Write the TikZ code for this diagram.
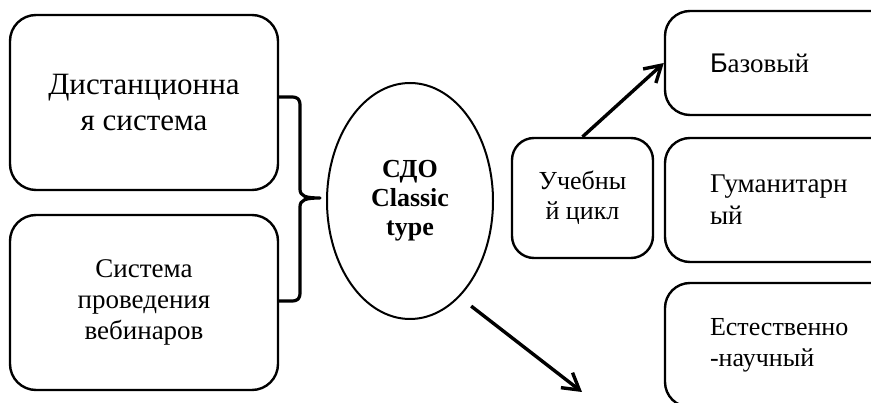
\documentclass[tikz,border=0pt]{standalone}
\usepackage{fontspec}
\setmainfont{Liberation Serif}
\newfontfamily\arialfont{Liberation Sans}
\usetikzlibrary{arrows.meta,shapes.geometric,calc}
\tikzset{
  rbox/.style={draw=black, line width=2.4pt, rounded corners=26pt, inner sep=0pt},
  arr/.style={draw=black, line width=3.4pt, -{Straight Barb[length=16pt,width=19pt,line width=3.4pt]}},
  bracestyle/.style={draw=black, line width=3.2pt, line cap=butt, line join=round},
}
\begin{document}
\begin{tikzpicture}[x=1pt,y=-1pt]
\useasboundingbox (0,0) rectangle (871,403);
\clip (0,0) rectangle (871,403);
% left boxes
\node[rbox, minimum width=268pt, minimum height=175pt, align=center,
      font=\fontsize{31}{36}\selectfont] (b1) at (144,102.5) {Дистанционна\\я система};
\node[rbox, minimum width=268pt, minimum height=175pt, align=center,
      font=\fontsize{27}{31}\selectfont] (b2) at (144,302.5) {Система\\проведения\\вебинаров};
% ellipse
\node[draw=black, line width=2pt, ellipse, minimum width=166pt, minimum height=236pt,
      inner sep=0pt, align=center, font=\fontsize{26}{29}\selectfont\bfseries] (cdo) at (410,201) {СДО\\Classic\\type};
% brace
\draw[bracestyle] (278,97) -- (291,97) .. controls (298,97) and (300,99) .. (300,106)
  -- (300,189) .. controls (300,196) and (305,198) .. (320,198)
  .. controls (305,198) and (300,200) .. (300,207)
  -- (300,292) .. controls (300,299) and (298,301) .. (291,301) -- (278,301);
% middle box
\node[rbox, rounded corners=22pt, minimum width=141pt, minimum height=120pt, align=center,
      font=\fontsize{26}{30}\selectfont] (uc) at (582.5,198) {Учебны\\й цикл};
% right boxes
\node[rbox, rounded corners=25pt, minimum width=250pt, minimum height=104pt,
      inner xsep=45pt, text width=160pt, align=left,
      font=\fontsize{27}{31}\selectfont] (baz) at (790,63) {{\arialfont Б}азовый};
\node[rbox, rounded corners=25pt, minimum width=250pt, minimum height=124pt,
      inner xsep=45pt, text width=160pt, align=left,
      font=\fontsize{27}{32}\selectfont] (hum) at (790,200) {Гуманитарн\\ый};
\node[rbox, rounded corners=25pt, minimum width=250pt, minimum height=124pt,
      inner xsep=45pt, text width=160pt, align=left,
      font=\fontsize{26}{31}\selectfont] (est) at (790,345) {Естественно\\-научный};
% arrows
\coordinate (a2end) at (582,392);
\draw[arr] (uc.north) -- (baz.west);
\draw[arr] ([xshift=8pt,yshift=-13pt]cdo.-60) -- (a2end);
\end{tikzpicture}
\end{document}
